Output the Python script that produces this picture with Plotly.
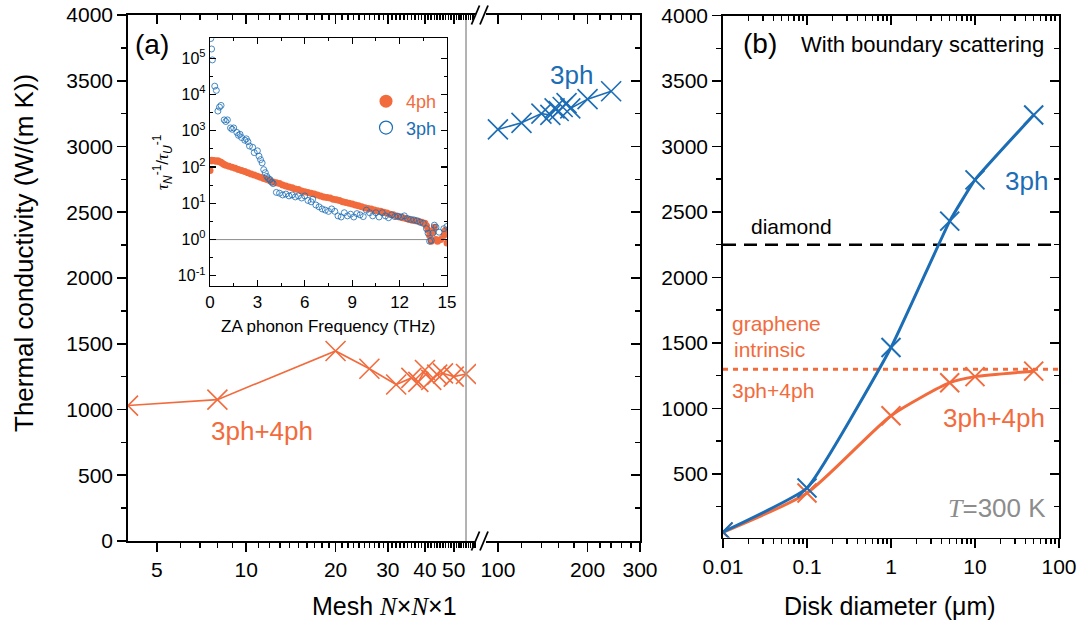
import math
import plotly.graph_objects as go

W, H = 1080, 626
def fx(p):
    return p / W
def fy(p):
    return 1 - p / H

ORANGE = "#F26B3D"
BLUE = "#1B6DB5"
GRAY = "#8C8C8C"
FONT = "Liberation Sans, Arial, sans-serif"
SERIF = "Liberation Serif, Times New Roman, serif"

# ---------------- data ----------------
# (a) mesh convergence
mesh_4ph = [4, 8, 20, 26, 32, 36, 38, 40, 42, 44, 46, 50, 55]
kappa_4ph_mesh = [1030, 1075, 1445, 1310, 1190, 1240, 1210, 1300, 1225, 1265, 1275, 1250, 1270]
mesh_3ph = [100, 120, 140, 150, 155, 160, 165, 170, 175, 200, 240]
kappa_3ph_mesh = [3130, 3180, 3250, 3240, 3290, 3270, 3300, 3330, 3290, 3360, 3420]

# (a) inset: tau_N^-1 / tau_U^-1 vs ZA frequency
freq_4ph = [0.0, 0.05, 0.1, 0.15, 0.2, 0.3, 0.4, 0.5, 0.6, 0.7, 0.8, 0.9, 1.0, 1.2, 1.4,
            1.6, 1.8, 2.0, 2.2, 2.4, 2.6, 2.8, 3.0, 3.2, 3.4, 3.6, 3.8, 4.0, 4.2, 4.4,
            4.6, 4.8, 5.0, 5.2, 5.4, 5.6, 5.8, 6.0, 6.2, 6.4, 6.6, 6.8, 7.0, 7.2, 7.4,
            7.6, 7.8, 8.0, 8.2, 8.4, 8.6, 8.8, 9.0, 9.2, 9.4, 9.6, 9.8, 10.0, 10.2, 10.4,
            10.6, 10.8, 11.0, 11.2, 11.4, 11.6, 11.8, 12.0, 12.2, 12.4, 12.6, 12.8, 13.0,
            13.2, 13.4, 13.6, 13.7, 13.8, 13.9, 14.0, 14.1, 14.2, 14.3, 14.4, 14.6, 14.8,
            14.9, 15.0]
ratio_4ph = [80, 150, 155, 148, 152, 150, 145, 148, 140, 135, 125, 118, 112, 105, 98,
             92, 85, 80, 75, 70, 64, 60, 56, 52, 48, 45, 42, 39, 37, 35,
             32, 30, 28, 27, 25, 24, 22, 21, 20, 19, 18, 17, 16, 15, 14.5,
             14, 13, 12.5, 12, 11, 10.5, 10, 9.5, 9, 8.5, 8, 7.5, 7.2, 7, 6.5,
             6.2, 6, 5.7, 5.4, 5, 4.8, 4.5, 4.2, 4, 3.8, 3.6, 3.4, 3.3,
             3.2, 3.0, 2.8, 2.4, 1.8, 1.3, 0.9, 1.6, 2.2, 1.0, 0.9, 1.0, 1.3,
             1.8, 0.8]
freq_3ph = [0.05, 0.1, 0.15, 0.3, 0.4, 0.5, 0.6, 0.7, 0.9, 1.0, 1.1, 1.3, 1.4, 1.5, 1.7,
            1.8, 1.9, 2.0, 2.2, 2.3, 2.4, 2.5, 2.7, 2.8, 3.0, 3.1, 3.2, 3.3, 3.4, 3.5,
            3.6, 3.7, 3.8, 3.9, 4.0, 4.2, 4.4, 4.6, 4.8, 5.0, 5.2, 5.4, 5.6, 5.8, 6.0,
            6.2, 6.4, 6.5, 6.7, 6.9, 7.1, 7.3, 7.5, 7.7, 7.9, 8.1, 8.3, 8.5, 8.7, 8.9,
            9.1, 9.3, 9.5, 9.7, 9.9, 10.1, 10.3, 10.5, 10.7, 10.9, 11.1, 11.3, 11.5, 11.7,
            11.9, 12.1, 12.3, 12.5, 12.7, 12.9, 13.1, 13.3, 13.5, 13.7, 13.8, 13.9, 14.0,
            14.1, 14.2, 14.3, 14.5, 14.8, 15.0]
ratio_3ph = [3.5e5, 1.8e5, 9e4, 1.7e4, 1.3e4, 3.5e3, 4.5e3, 5e3, 2e3, 1.8e3, 2e3, 1.2e3, 1.1e3, 1.2e3, 900,
             750, 800, 650, 550, 600, 500, 380, 350, 250, 280, 200, 160, 130, 85, 70,
             55, 48, 45, 38, 35, 20, 19, 17, 18, 16, 17, 15, 16, 14, 16,
             12, 11, 13, 9, 8, 7, 6.5, 6.0, 7, 6, 4.5, 4.2, 5.5, 4.5, 5,
             4.2, 5.2, 4.8, 4.3, 6.5, 5.5, 4.5, 5.5, 4.2, 5.5, 4.5, 4, 4.8, 4.3,
             4.4, 4.2, 4.5, 3.8, 3.6, 3.5, 3.3, 3.0, 2.8, 2.0, 1.5, 0.9, 0.95,
             1.5, 2.5, 2.2, 1.6, 2.0, 2.3]
RATIO_UNITY = 1.0

# (b) size dependence
diameter_um = [0.01, 0.1, 1, 5, 10, 50]
kappa_3ph_disk = [58, 393, 1465, 2430, 2745, 3240]
kappa_34ph_disk = [55, 355, 945, 1197, 1243, 1285]
DIAMOND_K = 2250
GRAPHENE_K = 1300

# tick labels
mesh_left_ticks = [5, 10, 20, 30, 40, 50]
mesh_right_ticks = [100, 200, 300]
kappa_ticks = [0, 500, 1000, 1500, 2000, 2500, 3000, 3500, 4000]
disk_ticks = [0.01, 0.1, 1, 10, 100]
disk_ticktext = ["0.01", "0.1", "1", "10", "100"]
freq_ticks = [0, 3, 6, 9, 12, 15]
ratio_ticks = [0.1, 1, 10, 100, 1e3, 1e4, 1e5]
ratio_ticktext = ["10<sup>-1</sup>", "10<sup>0</sup>", "10<sup>1</sup>", "10<sup>2</sup>",
                  "10<sup>3</sup>", "10<sup>4</sup>", "10<sup>5</sup>"]

# ---------------- figure ----------------
fig = go.Figure()

# (a) left segment
fig.add_trace(go.Scatter(x=mesh_4ph, y=kappa_4ph_mesh, mode="lines+markers", xaxis="x", yaxis="y",
                         line=dict(color=ORANGE, width=1.6),
                         marker=dict(symbol="x-thin", size=20, line=dict(color=ORANGE, width=1.6)),
                         showlegend=False, hoverinfo="skip"))
# gray separator line at the end of the left segment
fig.add_trace(go.Scatter(x=[mesh_4ph[-1], mesh_4ph[-1]], y=[kappa_ticks[0], kappa_ticks[-1]], mode="lines",
                         xaxis="x", yaxis="y", line=dict(color="#9A9A9A", width=1.5),
                         showlegend=False, hoverinfo="skip"))
# (a) right segment
fig.add_trace(go.Scatter(x=mesh_3ph, y=kappa_3ph_mesh, mode="lines+markers", xaxis="x2", yaxis="y",
                         line=dict(color=BLUE, width=1.6),
                         marker=dict(symbol="x-thin", size=20, line=dict(color=BLUE, width=1.6)),
                         showlegend=False, hoverinfo="skip"))

# inset
fig.add_trace(go.Scatter(x=[0, 15], y=[RATIO_UNITY, RATIO_UNITY], mode="lines", xaxis="x7", yaxis="y5",
                         line=dict(color="#8C8C8C", width=1), showlegend=False, hoverinfo="skip"))
fig.add_trace(go.Scatter(x=freq_4ph, y=ratio_4ph, mode="markers", xaxis="x7", yaxis="y5",
                         marker=dict(symbol="circle", size=7, color=ORANGE, line=dict(width=0)),
                         showlegend=False, hoverinfo="skip"))
fig.add_trace(go.Scatter(x=freq_3ph, y=ratio_3ph, mode="markers", xaxis="x7", yaxis="y5",
                         marker=dict(symbol="circle-open", size=6, color=BLUE, line=dict(width=0.8)),
                         showlegend=False, hoverinfo="skip"))
# legend entries (inset)
fig.add_trace(go.Scatter(x=[None], y=[None], mode="markers", xaxis="x7", yaxis="y5",
                         name=f"<span style='color:{ORANGE}'>4ph</span>",
                         marker=dict(symbol="circle", size=13, color=ORANGE), showlegend=True))
fig.add_trace(go.Scatter(x=[None], y=[None], mode="markers", xaxis="x7", yaxis="y5",
                         name=f"<span style='color:{BLUE}'>3ph</span>",
                         marker=dict(symbol="circle-open", size=13, color=BLUE, line=dict(width=1.2)),
                         showlegend=True))

# (b)
fig.add_trace(go.Scatter(x=[diameter_um[0], 100], y=[DIAMOND_K, DIAMOND_K], mode="lines",
                         xaxis="x5", yaxis="y3", line=dict(color="black", width=2.5, dash="13px,8px"),
                         showlegend=False, hoverinfo="skip"))
fig.add_trace(go.Scatter(x=[diameter_um[0], 100], y=[GRAPHENE_K, GRAPHENE_K], mode="lines",
                         xaxis="x5", yaxis="y3", line=dict(color=ORANGE, width=3, dash="5px,5px"),
                         showlegend=False, hoverinfo="skip"))
fig.add_trace(go.Scatter(x=diameter_um, y=kappa_34ph_disk, mode="lines+markers", xaxis="x5", yaxis="y3",
                         line=dict(color=ORANGE, width=3, shape="spline", smoothing=0.6),
                         marker=dict(symbol="x-thin", size=19, line=dict(color=ORANGE, width=2)),
                         showlegend=False, hoverinfo="skip"))
fig.add_trace(go.Scatter(x=diameter_um, y=kappa_3ph_disk, mode="lines+markers", xaxis="x5", yaxis="y3",
                         line=dict(color=BLUE, width=3, shape="spline", smoothing=0.35),
                         marker=dict(symbol="x-thin", size=19, line=dict(color=BLUE, width=2)),
                         showlegend=False, hoverinfo="skip"))

# empty traces to make mirror axes exist
for xa, ya in [("x3", "y"), ("x4", "y"), ("x2", "y2"), ("x6", "y3"), ("x5", "y4")]:
    fig.add_trace(go.Scatter(x=[], y=[], xaxis=xa, yaxis=ya, showlegend=False, hoverinfo="skip"))

# ---------------- axes ----------------
LW = 1.8
def axis_base(**kw):
    d = dict(showline=True, linecolor="black", linewidth=LW, showgrid=False, zeroline=False,
             tickcolor="black", tickwidth=LW, ticklen=9, automargin=False,
             tickfont=dict(family=FONT, size=21, color="black"), fixedrange=True)
    d.update(kw)
    return d

def minor(vals, ticks):
    return dict(tickmode="array", tickvals=vals, ticks=ticks, ticklen=5, tickwidth=1.5, tickcolor="black")

left_minor = [v for v in range(6, 60) if v not in mesh_left_ticks]
right_minor = [120, 140, 160, 180, 220, 240, 260, 280]
kappa_minor = [250 + 500 * i for i in range(8)]
disk_minor = [m * 10 ** e for e in range(-2, 2) for m in range(2, 10)]

xl_range = [math.log10(4), 1.774]
xr_range = [1.96, math.log10(300)]
xl_dom = [fx(128), fx(476)]
xr_dom = [fx(486), fx(640)]
ya_dom = [fy(541), fy(15)]

layout = dict(
    width=W, height=H, autosize=False,
    margin=dict(l=0, r=0, t=0, b=0, pad=0, autoexpand=False),
    paper_bgcolor="white", plot_bgcolor="rgba(0,0,0,0)",
    font=dict(family=FONT, color="black"),
    xaxis=axis_base(type="log", domain=xl_dom, range=xl_range, anchor="y", ticks="outside",
                    tickmode="array", tickvals=mesh_left_ticks, ticktext=[str(v) for v in mesh_left_ticks],
                    minor=minor(left_minor, "outside")),
    xaxis2=axis_base(type="log", domain=xr_dom, range=xr_range, anchor="y", ticks="outside",
                     tickmode="array", tickvals=mesh_right_ticks, ticktext=[str(v) for v in mesh_right_ticks],
                     minor=minor(right_minor, "outside")),
    xaxis3=axis_base(type="log", overlaying="x", side="top", anchor="y", range=xl_range, ticks="inside",
                     showticklabels=False, tickmode="array", tickvals=mesh_left_ticks,
                     minor=minor(left_minor, "inside")),
    xaxis4=axis_base(type="log", overlaying="x2", side="top", anchor="y", range=xr_range, ticks="inside",
                     showticklabels=False, tickmode="array", tickvals=mesh_right_ticks,
                     minor=minor(right_minor, "inside")),
    yaxis=axis_base(domain=ya_dom, range=[0, 4000], anchor="x", ticks="outside",
                    tickmode="array", tickvals=kappa_ticks, ticktext=[str(v) for v in kappa_ticks],
                    minor=minor(kappa_minor, "outside")),
    yaxis2=axis_base(overlaying="y", side="right", anchor="x2", range=[0, 4000], ticks="inside",
                     showticklabels=False, tickmode="array", tickvals=kappa_ticks,
                     minor=minor(kappa_minor, "inside")),
    # panel (b)
    xaxis5=axis_base(type="log", domain=[fx(723), fx(1059)], range=[-2, 2], anchor="y3", ticks="outside",
                     tickmode="array", tickvals=disk_ticks, ticktext=disk_ticktext,
                     minor=minor(disk_minor, "outside")),
    xaxis6=axis_base(type="log", overlaying="x5", side="top", anchor="y3", range=[-2, 2], ticks="inside",
                     showticklabels=False, tickmode="array", tickvals=disk_ticks,
                     minor=minor(disk_minor, "inside")),
    yaxis3=axis_base(domain=[fy(537.5), fy(15.5)], range=[15, 4000], anchor="x5", ticks="outside",
                     tickmode="array", tickvals=kappa_ticks[1:], ticktext=[str(v) for v in kappa_ticks[1:]],
                     minor=minor(kappa_minor, "outside")),
    yaxis4=axis_base(overlaying="y3", side="right", anchor="x5", range=[15, 4000], ticks="inside",
                     showticklabels=False, tickmode="array", tickvals=kappa_ticks[1:],
                     minor=minor(kappa_minor, "inside")),
    # inset
    xaxis7=axis_base(domain=[fx(210), fx(447)], range=[0, 15], anchor="y5", ticks="inside", mirror="ticks",
                     linewidth=1.2, tickwidth=1.2, ticklen=6,
                     tickfont=dict(family=FONT, size=17, color="black"),
                     tickmode="array", tickvals=freq_ticks, ticktext=[str(v) for v in freq_ticks],
                     minor=dict(tickmode="array", tickvals=[1.5, 4.5, 7.5, 10.5, 13.5], ticks="inside",
                                ticklen=3, tickwidth=1, tickcolor="black")),
    yaxis5=axis_base(type="log", domain=[fy(286), fy(38.3)], range=[-1.28, 5.55], anchor="x7",
                     ticks="inside", mirror="ticks", linewidth=1.2, tickwidth=1.2, ticklen=6,
                     tickfont=dict(family=FONT, size=16, color="black"),
                     tickmode="array", tickvals=ratio_ticks, ticktext=ratio_ticktext,
                     minor=dict(tickmode="array", tickvals=[10 ** (e + 0.5) for e in range(-1, 5)],
                                ticks="inside", ticklen=3, tickwidth=1, tickcolor="black")),
    legend=dict(x=fx(366), y=fy(83), xanchor="left", yanchor="top", bgcolor="rgba(0,0,0,0)",
                font=dict(family=FONT, size=18), tracegroupgap=0, itemwidth=30),
    showlegend=True,
)
fig.update_layout(**layout)

# ---------------- annotations ----------------
def ann(text, x, y, size, color="black", angle=0, family=FONT, xanchor="center"):
    fig.add_annotation(text=text, x=fx(x), y=fy(y), xref="paper", yref="paper", showarrow=False,
                       font=dict(family=family, size=size, color=color), textangle=angle,
                       xanchor=xanchor, yanchor="middle")

NI = f"<span style='font-family:{SERIF}'><i>N</i></span>"
ann("Thermal conductivity (W/(m K))", 24, 253, 26, angle=-90)
ann(f"Mesh {NI}×{NI}×1", 385, 606, 25)
ann("Disk diameter (μm)", 890, 606, 25)
ann("(a)", 152, 45, 28)
ann("(b)", 760, 43, 28)
ann("3ph", 571, 75, 26, color=BLUE)
ann("3ph+4ph", 262, 431, 26, color=ORANGE)
ann("ZA phonon Frequency (THz)", 328, 326, 17)
TAU = f"<span style='font-family:{SERIF}'><i>τ</i></span>"
ann(f"{TAU}<sub><i>N</i></sub><sup>-1</sup>/{TAU}<sub><i>U</i></sub><sup>-1</sup>", 163, 162, 17, angle=-90)
ann("With boundary scattering", 922, 45, 22)
ann("3ph", 1026, 181, 26, color=BLUE)
ann("diamond", 791, 226, 21)
ann("graphene", 776, 323, 21, color=ORANGE)
ann("intrinsic", 770, 349, 21, color=ORANGE)
ann("3ph+4ph", 773, 390, 21, color=ORANGE)
ann("3ph+4ph", 994, 418, 26, color=ORANGE)
ann(f"<span style='font-family:{SERIF}'><i>T</i></span>=300 K", 997, 508, 26, color=GRAY)

# axis-break marks
for yc in (541, 15):
    for x0 in (471.5, 480):
        fig.add_shape(type="line", xref="paper", yref="paper",
                      x0=fx(x0), y0=fy(yc + 9.5), x1=fx(x0 + 8), y1=fy(yc - 9.5),
                      line=dict(color="black", width=1.8))

fig.write_html("out.html", config={"displayModeBar": False, "staticPlot": True},
               post_script="document.body.style.margin='0px';document.body.style.padding='0px';")
